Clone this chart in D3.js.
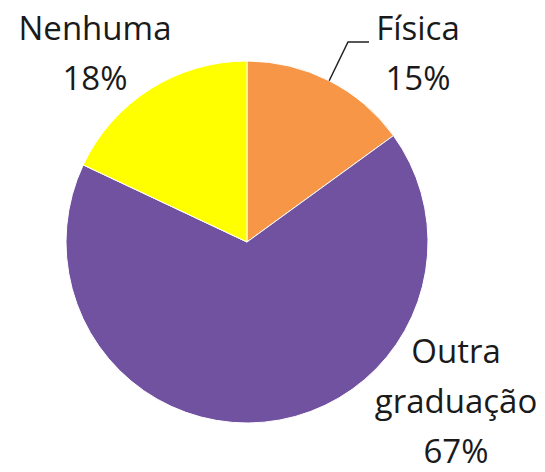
<!DOCTYPE html>
<html><head><meta charset="utf-8">
<script src="https://cdn.jsdelivr.net/npm/d3@7"></script>
<style>body{margin:0;background:#fff}text{font-family:"Open Sans","Liberation Sans",sans-serif;fill:#1a1a1a}</style>
</head><body>
<svg id="c" width="545" height="472"></svg>
<script>
const categories = ["Física", "Outra graduação", "Nenhuma"];
const values = [15, 67, 18];
const colors = ["#F79646", "#7152A1", "#FFFF00"];
const labelLines = [["Física", "15%"], ["Outra", "graduação", "67%"], ["Nenhuma", "18%"]];

const svg = d3.select("#c");
const cx = 247, cy = 242, r = 181;
const g = svg.append("g").attr("transform", `translate(${cx},${cy})`);
const pie = d3.pie().sort(null).value(d => d)(values);
const arc = d3.arc().innerRadius(0).outerRadius(r);
g.selectAll("path").data(pie).enter().append("path")
  .attr("d", arc).attr("fill", (d, i) => colors[i])
  .attr("stroke", "#fff").attr("stroke-width", 1);

// label anchors (x center, first baseline)
const labelPos = [[418, 40], [456, 363], [95, 40]];
const lhs = [50, 50, 50];
labelLines.forEach((lines, i) => {
  const t = svg.append("text").attr("text-anchor", "middle").attr("font-size", 33);
  lines.forEach((l, j) => t.append("tspan").attr("x", labelPos[i][0]).attr("y", labelPos[i][1] + j * lhs[i]).text(l));
});
// leader line for Física
const a0 = (pie[0].startAngle + pie[0].endAngle) / 2;
const ex = cx + r * Math.sin(a0), ey = cy - r * Math.cos(a0);
svg.append("polyline").attr("points", `${ex},${ey} 348,42 369,42`)
  .attr("fill", "none").attr("stroke", "#222").attr("stroke-width", 1.5);
</script>
</body></html>
